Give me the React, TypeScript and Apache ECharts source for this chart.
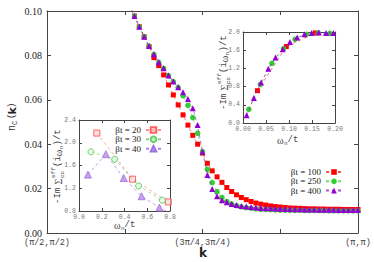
import React, { useEffect, useRef } from "react";
import * as echarts from "echarts";

// ---- main panel: n_C(k) along the diagonal, k-point index 0..64 ----
const kIndex = [16, 17, 18, 19, 20, 21, 22, 23, 24, 25, 26, 27, 28, 29, 30, 31, 32, 33, 34, 35, 36, 37, 38, 39, 40,
  41, 42, 43, 44, 45, 46, 47, 48, 49, 50, 51, 52, 53, 54, 55, 56, 57, 58, 59, 60, 61, 62, 63, 64];
const nc100 = [0.108, 0.1025, 0.0977, 0.0929, 0.0884, 0.084, 0.079, 0.0754, 0.0712, 0.0667, 0.0622, 0.0577, 0.0532,
  0.0486, 0.044, 0.04, 0.036, 0.0314, 0.028, 0.0253, 0.0228, 0.0205, 0.0187, 0.0172, 0.016, 0.015, 0.0142, 0.0135,
  0.013, 0.0126, 0.0122, 0.0119, 0.0117, 0.0115, 0.0113, 0.0112, 0.0111, 0.011, 0.0109, 0.0109, 0.0108, 0.0108,
  0.0107, 0.0107, 0.0107, 0.0106, 0.0106, 0.0106, 0.0106];
const nc250 = [0.108, 0.1025, 0.0977, 0.0929, 0.0884, 0.0842, 0.0805, 0.0769, 0.0742, 0.0709, 0.0682, 0.0656, 0.0618,
  0.0575, 0.052, 0.0449, 0.0366, 0.0287, 0.0227, 0.0186, 0.016, 0.0142, 0.0131, 0.0123, 0.0118, 0.0114, 0.0111,
  0.0109, 0.0107, 0.0106, 0.0105, 0.0104, 0.0103, 0.0103, 0.0102, 0.0102, 0.0102, 0.0101, 0.0101, 0.0101, 0.0101,
  0.0101, 0.01, 0.01, 0.01, 0.01, 0.01, 0.01, 0.01];
const nc400 = [0.108, 0.1025, 0.0977, 0.0929, 0.0884, 0.0842, 0.0805, 0.0769, 0.0742, 0.0709, 0.0682, 0.0656, 0.0634,
  0.0604, 0.0562, 0.0486, 0.0366, 0.0261, 0.0198, 0.0165, 0.0148, 0.0138, 0.0131, 0.0126, 0.0122, 0.0119, 0.0117,
  0.0115, 0.0113, 0.0112, 0.0111, 0.011, 0.0109, 0.0108, 0.0108, 0.0107, 0.0107, 0.0106, 0.0106, 0.0106, 0.0105,
  0.0105, 0.0105, 0.0105, 0.0104, 0.0104, 0.0104, 0.0104, 0.0104];
const kTickLabels: Record<number, string> = { 0: "(π/2,π/2)", 32: "(3π/4,3π/4)", 64: "(π,π)" };

// ---- inset 1 (top right): low temperature ----
const w100 = [0.0314, 0.0942, 0.1571];
const s100 = [0.71, 1.68, 1.98];
const w250 = [0.0126, 0.0377, 0.0628, 0.088, 0.1131, 0.1382, 0.1634, 0.1885];
const s250 = [0.3, 0.85, 1.31, 1.63, 1.84, 1.95, 1.98, 1.97];
const w400 = [0.0079, 0.0236, 0.0393, 0.055, 0.0707, 0.0864, 0.1021, 0.1178, 0.1335, 0.1492, 0.1649, 0.1806, 0.1963];
const s400 = [0.17, 0.55, 0.89, 1.19, 1.44, 1.62, 1.78, 1.88, 1.95, 1.98, 1.99, 1.98, 1.98];

// ---- inset 2 (bottom left): high temperature ----
const w20 = [0.157, 0.471, 0.785];
const s20 = [2.17, 1.36, 0.96];
const w30 = [0.105, 0.314, 0.524, 0.733];
const s30 = [1.84, 1.71, 1.24, 0.99];
const w40 = [0.0785, 0.236, 0.393, 0.55, 0.707, 0.864];
const s40 = [1.44, 1.8, 1.38, 1.06, 0.86, 0.7];

const RED = "#ff0000";
const GREEN = "#33cc33";
const PURPLE = "#9400d3";
const MONO = "Liberation Mono";
const SERIF = "Liberation Serif";

const zip = (xs: number[], ys: number[]) => xs.map((x, i) => [x, ys[i]]);

function textGroup(x: number, y: number, rotated: boolean, parts: any[]) {
  return {
    type: "group",
    x,
    y,
    rotation: rotated ? Math.PI / 2 : 0,
    children: parts.map((p) => ({
      type: "text",
      x: p.dx,
      y: p.dy || 0,
      style: {
        text: p.text,
        fontSize: p.size,
        fontFamily: p.family,
        fontWeight: p.weight || "normal",
        fill: p.fill || "#444",
        align: "left",
        verticalAlign: "middle",
      },
    })),
  };
}

const sigmaParts = [
  { text: "-Im", dx: 0, size: 9, family: MONO },
  { text: "Σ", dx: 19.5, size: 10, family: SERIF },
  { text: "eff", dx: 26, dy: -4.5, size: 6, family: MONO },
  { text: "cc", dx: 26, dy: 4, size: 6, family: MONO },
  { text: "(i", dx: 37, size: 9, family: MONO },
  { text: "ω", dx: 47.8, size: 10, family: SERIF },
  { text: "n", dx: 54.8, dy: 3.5, size: 6, family: MONO },
  { text: ")/t", dx: 58.5, size: 9, family: MONO },
];
const omegaParts = [
  { text: "ω", dx: 0, size: 10, family: SERIF },
  { text: "n", dx: 7, dy: 3.5, size: 6, family: MONO },
  { text: "/t", dx: 10.5, size: 9, family: MONO },
];

function frameAxes(gridIndex: number, min: number, max: number, interval: number, isX: boolean, fmt: any, inset: boolean) {
  const common = {
    gridIndex,
    type: "value",
    min,
    max,
    interval,
    axisLine: { show: true, onZero: false, lineStyle: { color: "#444", width: 1 } },
    axisTick: { show: true, inside: true, length: inset ? 3 : 4, lineStyle: { color: "#444" } },
    splitLine: { show: false },
  };
  const labelStyle = inset
    ? { fontFamily: MONO, fontSize: 6.5, color: "#777", margin: 3 }
    : isX
    ? { fontFamily: MONO, fontSize: 8.5, color: "#444", margin: 5 }
    : { fontFamily: SERIF, fontSize: 10, color: "#222", margin: 5 };
  return [
    { ...common, position: isX ? "bottom" : "left", axisLabel: { show: true, formatter: fmt, showMinLabel: true, showMaxLabel: true, ...labelStyle } },
    { ...common, position: isX ? "top" : "right", axisLabel: { show: false } },
  ];
}

export default function App() {
  const ref = useRef<HTMLDivElement>(null);
  useEffect(() => {
    if (!ref.current) return;
    const chart = echarts.init(ref.current, null, { renderer: "svg" });
    const mainLine = (name: string, xs: number[], ys: number[], color: string, symbol: string, size: number, z: number) => ({
      name,
      type: "line",
      xAxisIndex: 0,
      yAxisIndex: 0,
      data: zip(xs, ys),
      symbol,
      symbolSize: size,
      itemStyle: { color },
      lineStyle: { color, width: 0.8, type: [3, 3], opacity: 0.7 },
      z,
      clip: true,
    });
    const insetLine = (name: string, idx: number, xs: number[], ys: number[], symbol: string, size: number, z: number, item: any, line: string) => ({
      name,
      type: "line",
      xAxisIndex: idx,
      yAxisIndex: idx,
      data: zip(xs, ys),
      symbol,
      symbolSize: size,
      itemStyle: item,
      lineStyle: { color: line, width: 0.8, type: [3, 3], opacity: 0.8 },
      z,
      clip: true,
    });
    const legendItem = (name: string, right: number, top: number, w: number) => ({
      data: [name],
      right,
      top,
      orient: "vertical",
      align: "right",
      padding: 0,
      itemWidth: w,
      itemHeight: 7,
      itemGap: 0,
      textStyle: { fontFamily: SERIF, fontSize: 9, color: "#222", lineHeight: 9 },
    });
    const xAxes = [
      ...frameAxes(0, 0, 64, 16, true, (v: number) => kTickLabels[v] || "", false),
      ...frameAxes(1, 0, 0.2, 0.05, true, (v: number) => v.toFixed(2), true),
      ...frameAxes(2, 0, 0.8, 0.2, true, (v: number) => v.toFixed(1), true),
    ];
    const yAxes = [
      ...frameAxes(0, 0, 0.1, 0.02, false, (v: number) => v.toFixed(2), false),
      ...frameAxes(1, 0, 2.0, 0.4, false, (v: number) => v.toFixed(1), true),
      ...frameAxes(2, 0.8, 2.4, 0.4, false, (v: number) => v.toFixed(1), true),
    ];
    chart.setOption({
      animation: false,
      backgroundColor: "#ffffff",
      grid: [
        { left: 47, top: 11, right: 16, bottom: 29 },
        { left: 243, top: 32, width: 92, height: 91 },
        { left: 79, top: 120, width: 91, height: 91 },
      ],
      xAxis: xAxes,
      yAxis: yAxes,
      legend: [
        legendItem("βt = 100", 31, 167.5, 16),
        legendItem("βt = 250", 31, 176.8, 16),
        legendItem("βt = 400", 31, 186.1, 16),
        legendItem("βt = 20", 212, 125.5, 15),
        legendItem("βt = 30", 212, 134.8, 15),
        legendItem("βt = 40", 212, 144.2, 15),
      ],
      series: [
        mainLine("βt = 100", kIndex, nc100, RED, "rect", 5, 2),
        mainLine("βt = 250", kIndex, nc250, GREEN, "circle", 5.5, 3),
        mainLine("βt = 400", kIndex, nc400, PURPLE, "triangle", 6, 4),
        { ...mainLine("βt = 100", w100, s100, RED, "rect", 5, 2), xAxisIndex: 2, yAxisIndex: 2 },
        { ...mainLine("βt = 250", w250, s250, GREEN, "circle", 5.5, 3), xAxisIndex: 2, yAxisIndex: 2 },
        { ...mainLine("βt = 400", w400, s400, PURPLE, "triangle", 6, 4), xAxisIndex: 2, yAxisIndex: 2 },
        insetLine("βt = 20", 4, w20, s20, "rect", 6, 2,
          { color: "rgba(255,210,210,0.6)", borderColor: "#ff6060", borderWidth: 1 }, "#ff7070"),
        insetLine("βt = 30", 4, w30, s30, "circle", 6, 3,
          { color: "rgba(220,255,220,0.6)", borderColor: "#66cc66", borderWidth: 1 }, "#66cc66"),
        insetLine("βt = 40", 4, w40, s40, "triangle", 7, 4,
          { color: "#c8a0f0", borderColor: "#a070e0", borderWidth: 0.8 }, "#a060e8"),
      ],
      graphic: [
        textGroup(12, 131, true, [
          { text: "n", dx: 0, size: 10, family: MONO, fill: "#333" },
          { text: "C", dx: 6, dy: 3, size: 7, family: MONO, fill: "#333" },
          { text: "(", dx: 12, size: 9, family: MONO, fill: "#333" },
          { text: "k", dx: 16.5, size: 11, family: "DejaVu Sans", weight: "bold", fill: "#222" },
          { text: ")", dx: 23, size: 9, family: MONO, fill: "#333" },
        ]),
        {
          type: "text",
          x: 203,
          y: 253,
          style: { text: "k", fontSize: 12, fontWeight: "bold", fontFamily: "DejaVu Sans", fill: "#222", align: "center", verticalAlign: "middle" },
        },
        textGroup(224, 110, true, sigmaParts),
        textGroup(58, 204, true, sigmaParts),
        textGroup(277, 140, false, omegaParts),
        textGroup(114, 225, false, omegaParts),
      ],
    });
    return () => chart.dispose();
  }, []);
  return <div ref={ref} style={{ position: "fixed", left: 0, top: 0, width: 374, height: 262 }} />;
}
